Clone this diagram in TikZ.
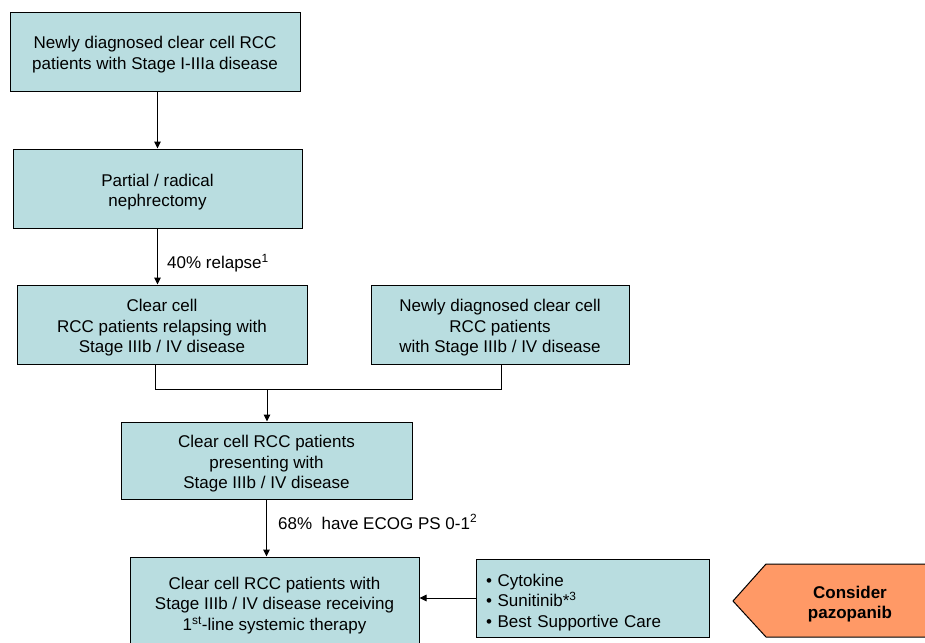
\documentclass[tikz,border=0pt]{standalone}
\usepackage{fontspec}
\setmainfont{Liberation Sans}
\usetikzlibrary{arrows.meta,shadows}
\definecolor{boxfill}{RGB}{185,221,224}
\definecolor{orangefill}{RGB}{255,153,102}
\begin{document}
\begin{tikzpicture}[x=1pt,y=-1pt,
  flowbox/.style={draw=black, line width=1pt, fill=boxfill, inner sep=0pt,
    drop shadow={shadow xshift=1.3pt, shadow yshift=-1.3pt, fill=black!45, opacity=1}},
  boxtext/.style={align=center, inner sep=0pt, font=\fontsize{17}{20.5}\selectfont},
  conn/.style={line width=1pt},
  arr/.style={conn, -{Triangle[length=7pt,width=6.5pt]}},
  lbl/.style={font=\fontsize{17}{20.5}\selectfont, anchor=west, inner sep=0pt}
]
\useasboundingbox (0,0) rectangle (925,642);

\node[flowbox, minimum width=290pt, minimum height=78pt] (b1) at (155,52) {};
\node[boxtext] (t1) at ([yshift=-2.5pt]b1.center)
  {Newly diagnosed clear cell RCC\\patients with Stage I-IIIa disease};
\node[flowbox, minimum width=289pt, minimum height=79pt] (b2) at (157.5,188.5) {};
\node[boxtext] (t2) at ([yshift=-3.5pt]b2.center)
  {Partial / radical\\nephrectomy};
\node[flowbox, minimum width=290pt, minimum height=79pt] (b3) at (162,324.5) {};
\node[boxtext] (t3) at ([yshift=-3.5pt]b3.center)
  {Clear cell\\RCC patients relapsing with\\Stage IIIb / IV disease};
\node[flowbox, minimum width=258pt, minimum height=79pt] (b4) at (500,324.5) {};
\node[boxtext] (t4) at ([yshift=-3.5pt]b4.center)
  {Newly diagnosed clear cell\\RCC patients\\with Stage IIIb / IV disease};
\node[flowbox, minimum width=291pt, minimum height=77pt] (b5) at (266.5,460.5) {};
\node[boxtext] (t5) at ([yshift=-3.5pt]b5.center)
  {Clear cell RCC patients\\presenting with\\Stage IIIb / IV disease};
\node[flowbox, minimum width=289pt, minimum height=88pt] (b6) at (274.5,601) {};
\node[boxtext] (t6) at ([yshift=-4.5pt]b6.center)
  {Clear cell RCC patients with\\Stage IIIb / IV disease receiving\\1\textsuperscript{st}-line systemic therapy};
\node[flowbox, minimum width=233pt, minimum height=78pt] (b7) at (592.5,598) {};
\node[boxtext, text width=213pt, align=left] (t7) at ([yshift=-4.5pt]b7.center)
  {• Cytokine\\• Sunitinib*\textsuperscript{3}\\• Best Supportive Care};

\draw[line width=1pt, fill=orangefill] (733,601) -- (766,564) -- (932,564) -- (932,637) -- (766,637) -- cycle;
\node[align=center, font=\bfseries\fontsize{17}{20}\selectfont, inner sep=0pt] (cp) at (850,604.5) {Consider\\pazopanib};

\draw[arr] (b2.north |- b1.south) -- (b2.north);
\draw[arr] (b2.south) -- (b2.south |- b3.north);
\node[lbl] (l1) at (167,263) {40\% relapse\textsuperscript{1}};

\coordinate (jl) at (155,389);
\coordinate (jr) at (501,389);
\coordinate (jm) at (267,389);
\draw[conn] (jl |- b3.south) -- (jl) -- (jr) -- (jr |- b4.south);
\draw[arr] (jm) -- (jm |- b5.north);

\draw[arr] (b5.south) -- (b5.south |- b6.north);
\node[lbl] (l2) at (278,522) {68\%\ \ have ECOG PS 0-1\textsuperscript{2}};

\draw[arr] (b7.west) -- (b7.west -| b6.east);
\end{tikzpicture}
\end{document}
